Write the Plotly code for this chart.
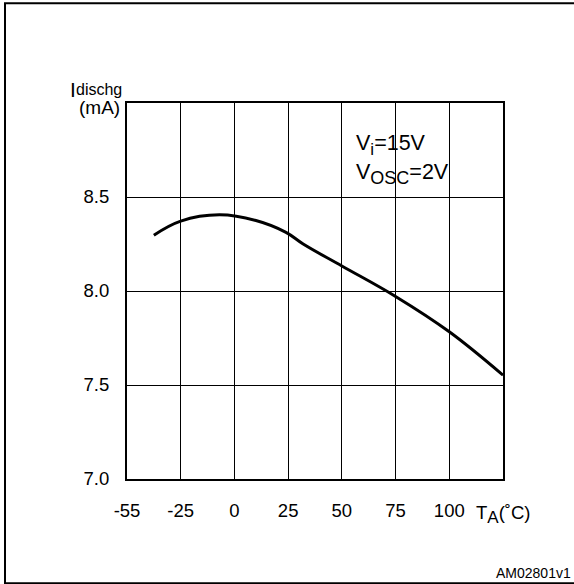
import plotly.graph_objects as go

# ---- data ----
# Temperature axis: the first grid interval spans -55..-25 (30 degC), the others 25 degC.
x_tick_labels = ["-55", "-25", "0", "25", "50", "75", "100", ""]
x_tick_temps = [-55, -25, 0, 25, 50, 75, 100, 125]
y_tick_vals = [7.0, 7.5, 8.0, 8.5, 9.0]
y_tick_labels = ["7.0", "7.5", "8.0", "8.5", ""]

temp_c = [-40, -25, -7, 10, 24, 32, 50, 75, 100, 125]
i_dischg_ma = [8.297, 8.372, 8.405, 8.375, 8.312, 8.25, 8.133, 7.971, 7.783, 7.552]


def axis_pos(t):
    """Map temperature to the chart's (piecewise) horizontal scale: grid-unit index."""
    if t <= -25:
        return (t + 55) / 30.0
    return 1 + (t + 25) / 25.0


x_pos = [axis_pos(t) for t in temp_c]
x_tick_pos = [axis_pos(t) for t in x_tick_temps]

FONT = "Liberation Sans, Arial, sans-serif"

# plot-area geometry in pixels (layout only)
W_FIG, H_FIG = 574, 584
L, R, T, B = 127, 503, 103, 479
PW, PH = R - L, B - T


def px(x):
    return (x - L) / PW


def py(y):
    return (B - y) / PH


fig = go.Figure()
fig.add_trace(go.Scatter(
    x=x_pos, y=i_dischg_ma, mode="lines",
    line=dict(color="black", width=3, shape="spline", smoothing=1.1),
    hoverinfo="skip", showlegend=False,
))

fig.update_layout(
    width=W_FIG, height=H_FIG,
    margin=dict(l=L, r=W_FIG - R, t=T, b=H_FIG - B, pad=0),
    paper_bgcolor="white", plot_bgcolor="white",
    font=dict(family=FONT, color="black", size=18.5),
    xaxis=dict(
        range=[0, 7], tickmode="array", tickvals=x_tick_pos, ticktext=x_tick_labels,
        showgrid=True, gridcolor="black", gridwidth=1.3,
        showline=True, linecolor="black", linewidth=2, mirror=True,
        ticks="", ticklabelstandoff=14, zeroline=False, fixedrange=True,
        tickfont=dict(size=18.5),
    ),
    yaxis=dict(
        range=[7.0, 9.0], tickmode="array", tickvals=y_tick_vals, ticktext=y_tick_labels,
        showgrid=True, gridcolor="black", gridwidth=1.3,
        showline=True, linecolor="black", linewidth=2, mirror=True,
        ticks="", ticklabelstandoff=12, zeroline=False, fixedrange=True,
        tickfont=dict(size=18.5),
    ),
    shapes=[
        dict(type="rect", xref="paper", yref="paper",
             x0=px(5), x1=px(577), y0=py(583.3), y1=py(3.2),
             line=dict(color="black", width=2), fillcolor="rgba(0,0,0,0)", layer="below"),
    ],
    annotations=[
        dict(text="I", xref="paper", yref="paper", x=px(67.5), y=py(89.5),
             xanchor="left", yanchor="middle", showarrow=False, font=dict(size=21)),
        dict(text="dischg", xref="paper", yref="paper", x=px(73.5), y=py(89),
             xanchor="left", yanchor="middle", showarrow=False, font=dict(size=16)),
        dict(text="(mA)", xref="paper", yref="paper", x=px(99), y=py(107.5),
             xanchor="center", yanchor="middle", showarrow=False, font=dict(size=19)),
        dict(text="V<sub><span style='font-size:17px'>i</span></sub>=15V",
             xref="paper", yref="paper", x=px(354), y=py(145),
             xanchor="left", yanchor="middle", showarrow=False, font=dict(size=21.5)),
        dict(text="V<sub><span style='font-size:18px'>OSC</span></sub>=2V",
             xref="paper", yref="paper", x=px(354), y=py(174),
             xanchor="left", yanchor="middle", showarrow=False, font=dict(size=21.5)),
        dict(text="T<sub><span style='font-size:17px'>A</span></sub>(˚C)",
             xref="x", yref="paper", x=axis_pos(125), y=py(514),
             xanchor="center", yanchor="middle", showarrow=False, font=dict(size=18.5)),
        dict(text="AM02801v1", xref="paper", yref="paper", x=px(573), y=py(573),
             xanchor="right", yanchor="middle", showarrow=False, font=dict(size=14)),
    ],
)

fig.write_html("out.html", config={"displayModeBar": False},
               post_script="document.body.style.margin='0';document.body.style.overflow='hidden';")
